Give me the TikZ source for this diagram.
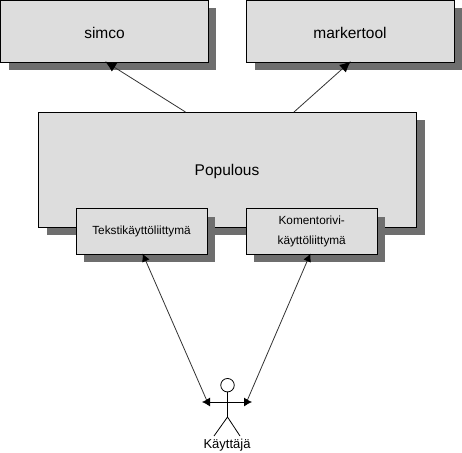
\documentclass[tikz,border=0pt]{standalone}
\usepackage{fontspec}
\setmainfont{Liberation Sans}
\usetikzlibrary{arrows.meta,shadows}
\definecolor{boxgray}{HTML}{DDDDDD}
\definecolor{shadowgray}{HTML}{6E6E6E}
\tikzset{
  boxnode/.style={draw=black, line width=0.9pt, fill=boxgray, outer sep=0pt, align=center,
    drop shadow={shadow xshift=8pt, shadow yshift=-8pt, fill=shadowgray, opacity=1}},
  usearrow/.style={draw=black!80, line width=0.8pt, -{Latex[black,length=11pt,width=10pt]}, shorten >=-1pt},
  figureline/.style={draw=black, line width=0.8pt}
}
\begin{document}
\begin{tikzpicture}[x=1pt, y=-1pt, font=\fontsize{15.5}{18}\selectfont]
  \useasboundingbox (0,0) rectangle (462,452);

  % --- top row: the two tools ---
  \node[boxnode, minimum width=207.5pt, minimum height=62pt] (simco) at (104.3,31.3) {};
  \node (simcotext) at (104.5,32.5) {simco};
  \node[boxnode, minimum width=207.5pt, minimum height=62pt] (markertool) at (350.3,31.3) {};
  \node (markertooltext) at (350,32.5) {markertool};

  % --- Populous with its two interfaces on the lower edge ---
  \node[boxnode, minimum width=378pt, minimum height=115pt] (populous) at (227.5,169.5) {};
  \node (populoustext) at (227,171) {Populous};
  \node[boxnode, minimum width=131pt, minimum height=45.5pt, font=\fontsize{11.8}{20}\selectfont]
    (tekstiui) at (141.5,231.5) {Tekstikäyttöliittymä};
  \node[boxnode, minimum width=131pt, minimum height=45.5pt, font=\fontsize{11.8}{20}\selectfont]
    (komentoui) at (311.7,231.5) {Komentorivi-\\käyttöliittymä};

  % --- stick figure ---
  \node[draw=black, line width=0.8pt, circle, minimum size=13.5pt, inner sep=0pt, outer sep=0pt]
    (head) at (227.5,385.2) {};
  \coordinate (armleft) at (202,402);
  \coordinate (armright) at (252,402);
  \coordinate (crotch) at (227.5,417);
  \coordinate (footleft) at (214,436);
  \coordinate (footright) at (240,436);
  \draw[figureline] (head.south) -- (crotch);
  \draw[figureline] (footleft) -- (crotch) -- (footright);
  \node[inner sep=0pt, font=\fontsize{13}{15}\selectfont] (kayttaja) at (227,445) {Käyttäjä};

  % --- connectors ---
  \coordinate (simcostart) at (185.5,112);
  \coordinate (simcoend) at (106,62);
  \coordinate (markerstart) at (294,112);
  \coordinate (markerend) at (350,62);
  \coordinate (tekstiend) at (143,254.5);
  \coordinate (komentoend) at (310,254.5);
  \coordinate (tekstilow) at (207,401);
  \coordinate (komentolow) at (247,401);
  \draw[usearrow] (simcostart) -- (simcoend);
  \draw[usearrow] (markerstart) -- (markerend);
  \draw[usearrow, -{Latex[black,length=8pt,width=8pt]}] (tekstilow) -- (tekstiend);
  \draw[usearrow, -{Latex[black,length=8pt,width=8pt]}] (komentolow) -- (komentoend);
  \draw[figureline, {Latex[length=8pt,width=9pt]}-{Latex[length=8pt,width=9pt]}] (armleft) -- (armright);
\end{tikzpicture}
\end{document}
